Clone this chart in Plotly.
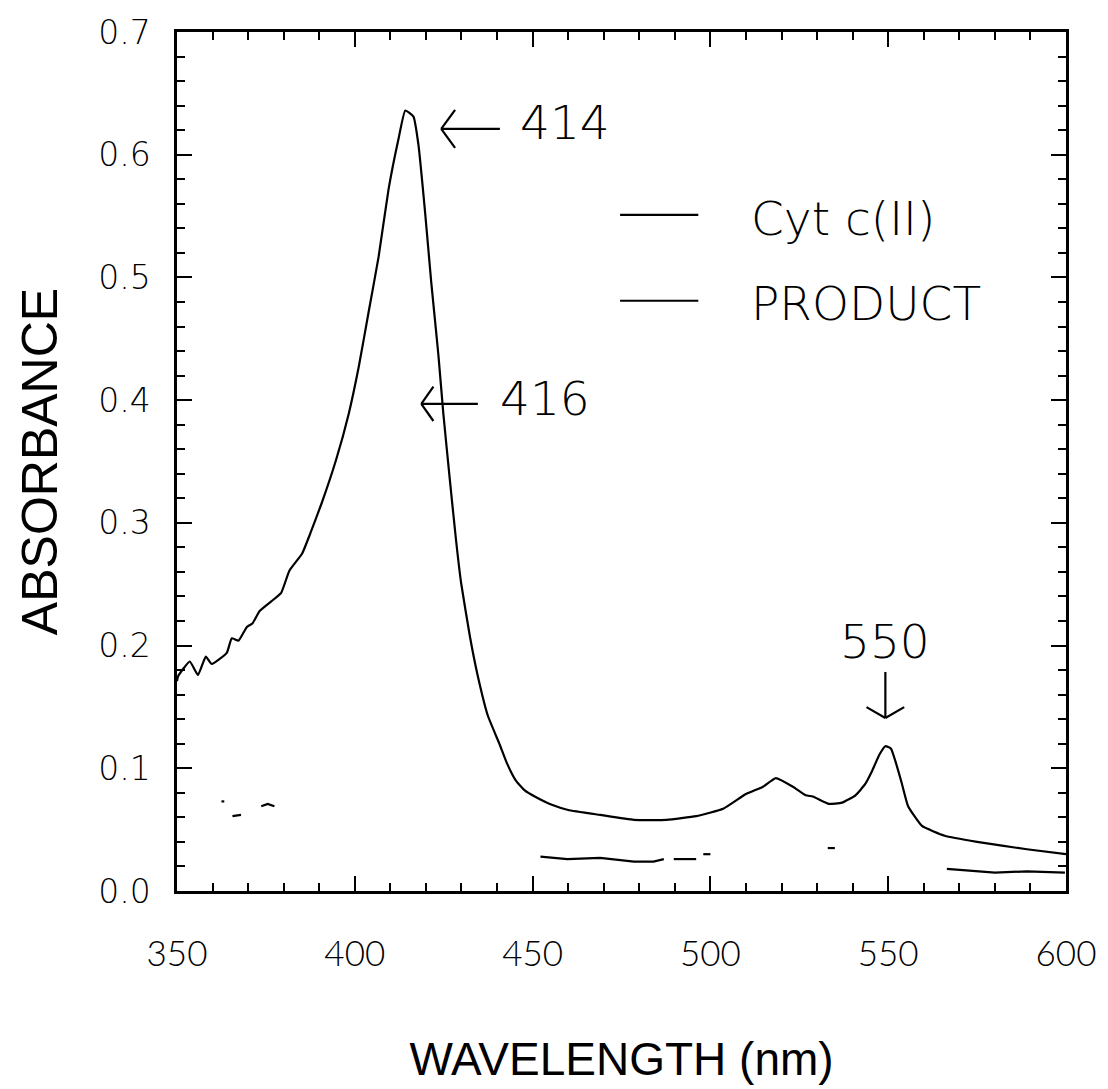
import plotly.graph_objects as go

# ---------------- data ----------------
wl_cyt = [350, 350.3, 353.6, 355.9, 358.1, 359.8, 364, 365.4, 367.3, 369.6, 371.2,
          373.2, 376.5, 379.3, 381.6, 385.2, 387.7, 390.8, 394.7, 398.3, 401.1,
          403.9, 406.7, 409.5, 412.3, 414.2, 416.5, 417.9, 419.8, 421.5, 423.5,
          424.9, 426.8, 428.5, 429.9, 432.4, 434.6, 437.4, 440.8, 442.8, 445.3, 447.8,
          450.6, 455.6, 460, 469, 478.5, 487.7, 496, 503.6, 510, 514.8, 518.4, 523.2,
          526.8, 528.8, 533.2, 537, 540.8, 543.5, 545.5, 547.5, 549.2, 550.8, 552,
          553.8, 555.6, 559.5, 565.9, 575, 589, 600]
abs_cyt = [0.171, 0.175, 0.187, 0.176, 0.191, 0.185, 0.194, 0.206, 0.204, 0.215, 0.218,
           0.228, 0.236, 0.243, 0.261, 0.275, 0.293, 0.317, 0.351, 0.389, 0.427,
           0.472, 0.517, 0.572, 0.613, 0.636, 0.631, 0.608, 0.552, 0.496, 0.437,
           0.389, 0.333, 0.285, 0.251, 0.207, 0.175, 0.143, 0.119, 0.104, 0.090, 0.082,
           0.077, 0.070, 0.066, 0.062, 0.058, 0.058, 0.061, 0.067, 0.079, 0.085, 0.092, 0.085,
           0.078, 0.077, 0.071, 0.072, 0.078, 0.087, 0.098, 0.111, 0.118, 0.116, 0.106,
           0.088, 0.069, 0.053, 0.045, 0.040, 0.034, 0.030]

# product trace: only faint fragments are visible in the reference (None = gap)
wl_prod = [362.5, 363.3, None, 365.6, 368.0, None, 373.7, 375.5, 377.4, None,
           452.2, 459.8, 469, 478.5, 484, 486.9, None, 489.7, 496, None, 498, 500, None,
           533, 535, None, 566.5, 580, 589, 599.7]
abs_prod = [0.073, 0.073, None, 0.061, 0.062, None, 0.069, 0.071, 0.069, None,
            0.028, 0.026, 0.027, 0.024, 0.024, 0.026, None, 0.026, 0.026, None, 0.030, 0.030, None,
            0.035, 0.035, None, 0.018, 0.015, 0.016, 0.015]

series_names = ["Cyt c(II)", "PRODUCT"]
x_ticks = [350, 400, 450, 500, 550, 600]
y_ticks = [0.0, 0.1, 0.2, 0.3, 0.4, 0.5, 0.6, 0.7]
peak_labels = ["414", "416", "550"]

x_title = "WAVELENGTH (nm)"
y_title = "ABSORBANCE"

# ---------------- figure ----------------
fig = go.Figure()
fig.add_trace(go.Scatter(x=wl_cyt, y=abs_cyt, mode="lines", name=series_names[0],
                         line=dict(color="black", width=2.2, shape="spline", smoothing=0.4),
                         showlegend=False))
fig.add_trace(go.Scatter(x=wl_prod, y=abs_prod, mode="lines", name=series_names[1],
                         line=dict(color="black", width=2.2), connectgaps=False,
                         showlegend=False))

LABEL_FONT = dict(family="'DejaVu Sans', sans-serif", size=47, color="black", weight=200)
XTITLE_FONT = dict(family="'Liberation Sans', Arial, sans-serif", size=46, color="black")
YTITLE_FONT = dict(family="'Liberation Sans', Arial, sans-serif", size=50, color="black")
YTICK_FONT = dict(family="'DejaVu Sans', sans-serif", size=33, color="black", weight=200)
XTICK_FONT = dict(family="Lato, 'Open Sans', sans-serif", size=35, color="black", weight=300)

shapes = []
def line(x0, y0, x1, y1, w=2.2):
    shapes.append(dict(type="line", xref="x", yref="y", x0=x0, y0=y0, x1=x1, y1=y1,
                       line=dict(color="black", width=w)))

# left-pointing arrow for 414
line(424.3, 0.621, 440.8, 0.621)
line(424.3, 0.621, 428.2, 0.6365)
line(424.3, 0.621, 428.2, 0.6055)
# left-pointing arrow for 416
line(418.7, 0.397, 434.6, 0.397)
line(418.7, 0.397, 422.1, 0.411)
line(418.7, 0.397, 422.1, 0.383)
# down arrow for 550
line(549.2, 0.1785, 549.2, 0.141)
line(549.2, 0.141, 543.9, 0.1498)
line(549.2, 0.141, 554.5, 0.1498)
# legend sample lines
line(474.6, 0.551, 496.6, 0.551)
line(474.6, 0.481, 496.6, 0.481)

annotations = [
    dict(x=445.8, y=0.626, text=peak_labels[0], xanchor="left", yanchor="middle"),
    dict(x=440.2, y=0.401, text=peak_labels[1], xanchor="left", yanchor="middle"),
    dict(x=549.2, y=0.203, text=peak_labels[2], xanchor="center", yanchor="middle"),
    dict(x=510.9, y=0.548, text=series_names[0], xanchor="left", yanchor="middle"),
    dict(x=510.9, y=0.479, text=series_names[1], xanchor="left", yanchor="middle"),
]
for a in annotations:
    a.update(xref="x", yref="y", showarrow=False, font=LABEL_FONT)

axis_common = dict(showline=True, linecolor="black", linewidth=2.5, mirror="ticks",
                   ticks="inside", ticklen=15, tickwidth=2, tickcolor="black",
                   showgrid=False, zeroline=False)

fig.update_layout(
    width=1108, height=1089,
    margin=dict(l=177, r=37, t=32, b=183),
    paper_bgcolor="white", plot_bgcolor="white",
    shapes=shapes, annotations=annotations,
    xaxis=dict(range=[350, 600], tickmode="array", tickvals=x_ticks,
               ticktext=[str(v) for v in x_ticks], ticklabelstandoff=30,
               tickfont=XTICK_FONT,
               minor=dict(dtick=10, ticks="inside", ticklen=8, tickwidth=1.5, tickcolor="black"),
               title=dict(text=x_title, font=XTITLE_FONT, standoff=72),
               **axis_common),
    yaxis=dict(range=[0, 0.7], tickmode="array", tickvals=y_ticks,
               ticktext=[f"{v:.1f}" for v in y_ticks], ticklabelstandoff=17,
               tickfont=YTICK_FONT,
               minor=dict(dtick=0.02, ticks="inside", ticklen=8, tickwidth=1.5, tickcolor="black"),
               title=dict(text=y_title, font=YTITLE_FONT, standoff=25),
               **axis_common),
)

fig.write_html("out.html")
